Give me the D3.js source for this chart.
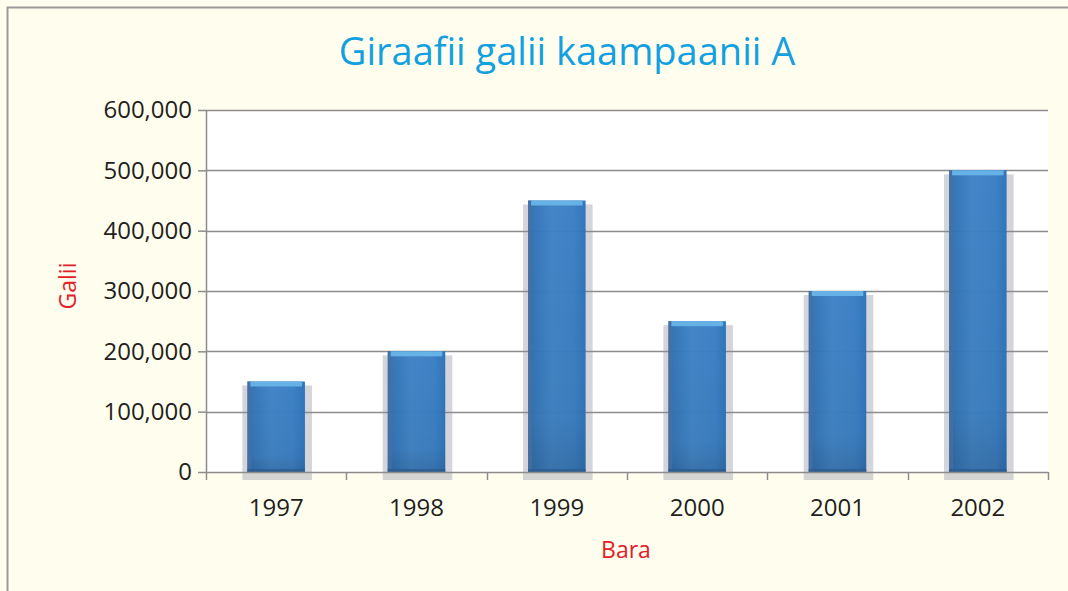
<!DOCTYPE html>
<html>
<head>
<meta charset="utf-8">
<script src="https://cdn.jsdelivr.net/npm/d3@7"></script>
<style>
  body { margin: 0; background: #fffeee; }
  svg { display: block; }
</style>
</head>
<body>
<svg></svg>
<script>
const years = ['1997', '1998', '1999', '2000', '2001', '2002']
const values = [150000, 200000, 450000, 250000, 300000, 500000]
const yTicks = [0, 100000, 200000, 300000, 400000, 500000, 600000]

const W = 1068
const H = 591
const pd = { top: 110, left: 206, right: 20, bottom: 119 }
const width = W - pd.left - pd.right
const height = H - pd.top - pd.bottom
const font = '"Open Sans", sans-serif'

const svg = d3.select('svg')
  .attr('width', W)
  .attr('height', H)

// frame
svg.append('rect')
  .attr('x', 7.5)
  .attr('y', 7.5)
  .attr('width', W + 20)
  .attr('height', H + 20)
  .attr('fill', '#fffeee')
  .attr('stroke', '#9a9a9a')
  .attr('stroke-width', 2)

const defs = svg.append('defs')
const grad = defs.append('linearGradient')
  .attr('id', 'barH')
  .attr('x1', 0).attr('x2', 1).attr('y1', 0).attr('y2', 0)
grad.append('stop').attr('offset', '0%').attr('stop-color', '#2c6fb3')
grad.append('stop').attr('offset', '40%').attr('stop-color', '#3d82c6')
grad.append('stop').attr('offset', '80%').attr('stop-color', '#387ec4')
grad.append('stop').attr('offset', '100%').attr('stop-color', '#2a72ba')

const vgrad = defs.append('linearGradient')
  .attr('id', 'barV')
  .attr('x1', 0).attr('x2', 0).attr('y1', 0).attr('y2', 1)
vgrad.append('stop').attr('offset', '0%').attr('stop-color', '#000').attr('stop-opacity', 0)
vgrad.append('stop').attr('offset', '80%').attr('stop-color', '#000').attr('stop-opacity', 0.04)
vgrad.append('stop').attr('offset', '100%').attr('stop-color', '#000').attr('stop-opacity', 0.14)

const x = d3.scaleBand()
  .domain(years)
  .range([0, width])

const y = d3.scaleLinear()
  .domain([0, 600000])
  .range([height, 0])

const g = svg.append('g')
  .attr('transform', `translate(${pd.left}, ${pd.top})`)

g.append('rect')
  .attr('width', width)
  .attr('height', height)
  .attr('fill', '#ffffff')

const bw = x.bandwidth() * 0.41
const bx = d => x(d) + (x.bandwidth() - bw) / 2
const data = years.map((yr, i) => ({ yr, v: values[i] }))

// shadows (under gridlines)
g.append('g')
  .selectAll('rect')
  .data(data)
  .enter()
  .append('rect')
  .attr('x', d => bx(d.yr) - 5)
  .attr('y', d => y(d.v) + 4)
  .attr('width', bw + 12)
  .attr('height', d => height - y(d.v) + 4)
  .attr('fill', '#b0b0bd')
  .attr('opacity', 0.55)

// gridlines
g.append('g')
  .selectAll('line')
  .data(yTicks.slice(1))
  .enter()
  .append('line')
  .attr('x1', 0)
  .attr('x2', width)
  .attr('y1', d => Math.round(y(d)) + 0.5)
  .attr('y2', d => Math.round(y(d)) + 0.5)
  .attr('stroke', '#8c8c8c')
  .attr('stroke-width', 1.5)

const bars = g.append('g')
  .selectAll('g')
  .data(data)
  .enter()
  .append('g')

bars.append('rect')
  .attr('x', d => bx(d.yr))
  .attr('y', d => y(d.v))
  .attr('width', bw)
  .attr('height', d => height - y(d.v))
  .attr('fill', 'url(#barH)')
  .attr('opacity', 0.96)

bars.append('rect')
  .attr('x', d => bx(d.yr))
  .attr('y', d => y(d.v))
  .attr('width', bw)
  .attr('height', d => height - y(d.v))
  .attr('fill', 'url(#barV)')

// dark left edge
bars.append('rect')
  .attr('x', d => bx(d.yr))
  .attr('y', d => y(d.v))
  .attr('width', 4)
  .attr('height', d => height - y(d.v))
  .attr('fill', '#4d6f9c')
  .attr('opacity', 0.7)

// light top strip
bars.append('rect')
  .attr('x', d => bx(d.yr) + 3)
  .attr('y', d => y(d.v))
  .attr('width', bw - 6)
  .attr('height', 5)
  .attr('fill', '#66b1e6')

// bottom dark line
bars.append('rect')
  .attr('x', d => bx(d.yr))
  .attr('y', height - 3)
  .attr('width', bw)
  .attr('height', 3)
  .attr('fill', '#2b5b8e')
  .attr('opacity', 0.8)

// y axis
const ya = g.append('g')
  .call(d3.axisLeft(y).tickValues(yTicks).tickSize(8).tickSizeOuter(0).tickPadding(6).tickFormat(d3.format(',')))
ya.select('.domain').attr('stroke', '#8c8c8c').attr('stroke-width', 1.5)
ya.selectAll('.tick line').attr('stroke', '#8c8c8c').attr('stroke-width', 1.5)
ya.selectAll('text')
  .attr('font-family', font)
  .attr('font-size', 24)
  .attr('fill', '#231f20')

// x axis
const xa = g.append('g')
  .attr('transform', `translate(0, ${height})`)
xa.append('line')
  .attr('x1', 0)
  .attr('x2', width)
  .attr('y1', 0.5)
  .attr('y2', 0.5)
  .attr('stroke', '#8c8c8c')
  .attr('stroke-width', 1.5)
xa.selectAll('line.tk')
  .data(years.concat(['end']))
  .enter()
  .append('line')
  .attr('class', 'tk')
  .attr('x1', d => Math.round(d === 'end' ? width : x(d)) + 0.5)
  .attr('x2', d => Math.round(d === 'end' ? width : x(d)) + 0.5)
  .attr('y1', 0)
  .attr('y2', 8)
  .attr('stroke', '#8c8c8c')
  .attr('stroke-width', 1.5)
xa.selectAll('text')
  .data(years)
  .enter()
  .append('text')
  .attr('x', d => x(d) + x.bandwidth() / 2)
  .attr('y', 44)
  .attr('text-anchor', 'middle')
  .attr('font-family', font)
  .attr('font-size', 24)
  .attr('fill', '#231f20')
  .text(d => d)

// title
svg.append('text')
  .attr('x', 567)
  .attr('y', 65)
  .attr('text-anchor', 'middle')
  .attr('font-family', font)
  .attr('font-size', 38)
  .attr('fill', '#12a0e0')
  .text('Giraafii galii kaampaanii A')

svg.append('text')
  .attr('transform', 'translate(76, 286) rotate(-90)')
  .attr('text-anchor', 'middle')
  .attr('font-family', font)
  .attr('font-size', 23)
  .attr('fill', '#e3202a')
  .text('Galii')

svg.append('text')
  .attr('x', 626)
  .attr('y', 558)
  .attr('text-anchor', 'middle')
  .attr('font-family', font)
  .attr('font-size', 23)
  .attr('fill', '#e3202a')
  .text('Bara')
</script>
</body>
</html>
